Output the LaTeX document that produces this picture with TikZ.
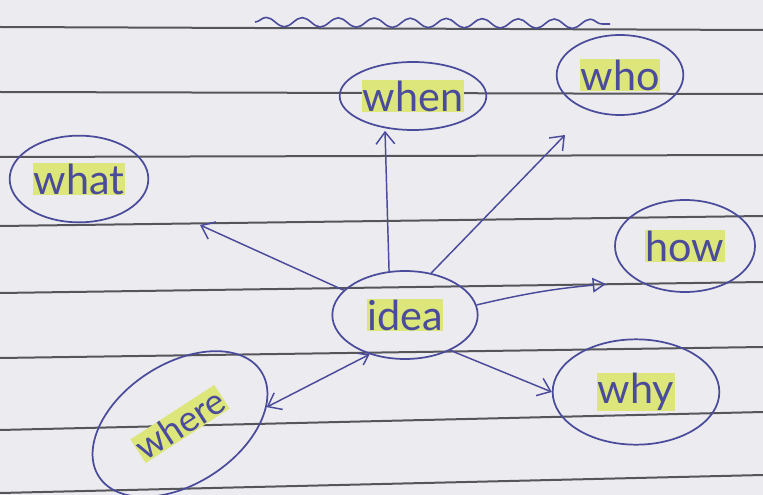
\documentclass[tikz,border=0pt]{standalone}
\usepackage{fontspec}
\setmainfont{Lato}
\usepackage{tikz}
\usetikzlibrary{arrows.meta,positioning,shapes.geometric,decorations.pathmorphing}
\definecolor{ink}{HTML}{4B4B9C}
\definecolor{hilite}{HTML}{DCE67A}
\definecolor{paper}{HTML}{ECEBEF}
\definecolor{ruling}{HTML}{55555A}
\newcommand{\hl}[1]{{\setlength{\fboxsep}{0.5pt}\colorbox{hilite}{#1}}}
\tikzset{
    bubble/.style={ellipse, draw=ink, line width=1.3pt, text=ink, inner sep=0pt, font=\fontsize{31}{31}\selectfont},
    link/.style={-{Straight Barb[length=9pt,width=14pt]}, draw=ink, line width=1.1pt},
    ruleline/.style={draw=ruling, line width=1.5pt}
}
\begin{document}
\begin{tikzpicture}[x=0.75pt, y=-0.75pt]

    % Paper
    \fill[paper] (0,0) rectangle (763,495);
    \useasboundingbox (0,0) rectangle (763,495);
    \foreach \a/\b in {27/30, 92/94, 157/155, 226/216, 293/282, 358/347, 430/412, 493/475}
        \draw[ruleline] (0,\a) -- (763,\b);

    % Title squiggle
    \draw[ink, line width=1.2pt, decorate, decoration={snake, amplitude=3.5pt, segment length=27pt}] (255,22) -- (610,24);

    % Nodes
    \node[bubble, minimum width=109pt, minimum height=66pt] (idea) at (405,315) {\hl{idea}};
    \node[bubble, minimum width=110pt, minimum height=51pt] (when) at (413,96) {\hl{when}};
    \node[bubble, minimum width=95pt, minimum height=60pt] (who) at (620,75) {\hl{who}};
    \node[bubble, minimum width=104pt, minimum height=65pt] (what) at (79,179) {\hl{what}};
    \node[bubble, minimum width=105pt, minimum height=69pt] (how) at (685,246) {\hl{how}};
    \node[bubble, minimum width=125pt, minimum height=79pt] (why) at (636,392) {\hl{why}};
    \node[bubble, minimum width=145pt, minimum height=90pt, rotate=33, font=\fontsize{27}{27}\selectfont] (where) at (180,424) {\hl{where}};

    % Arrow tips left short of their bubbles
    \coordinate (whotip) at (565,135);
    \coordinate (whattip) at (200,225);
    \coordinate (howtip) at (606,284);

    % Arrows
    \draw[link] (idea.110) -- ([xshift=-21pt]when.south);
    \draw[link] (idea.58) -- (whotip);
    \draw[link] (idea.158) -- (whattip);
    \draw[-{Triangle[open,length=10pt,width=11pt]}, draw=ink, line width=1.1pt] (idea.8) to[bend left=4] (howtip);
    \draw[link] (idea.-38) -- (why.west);
    \draw[link, {Straight Barb[length=7pt,width=10pt]}-{Straight Barb[length=9pt,width=14pt]}] (idea.-132) -- (where.-22);

\end{tikzpicture}
\end{document}
